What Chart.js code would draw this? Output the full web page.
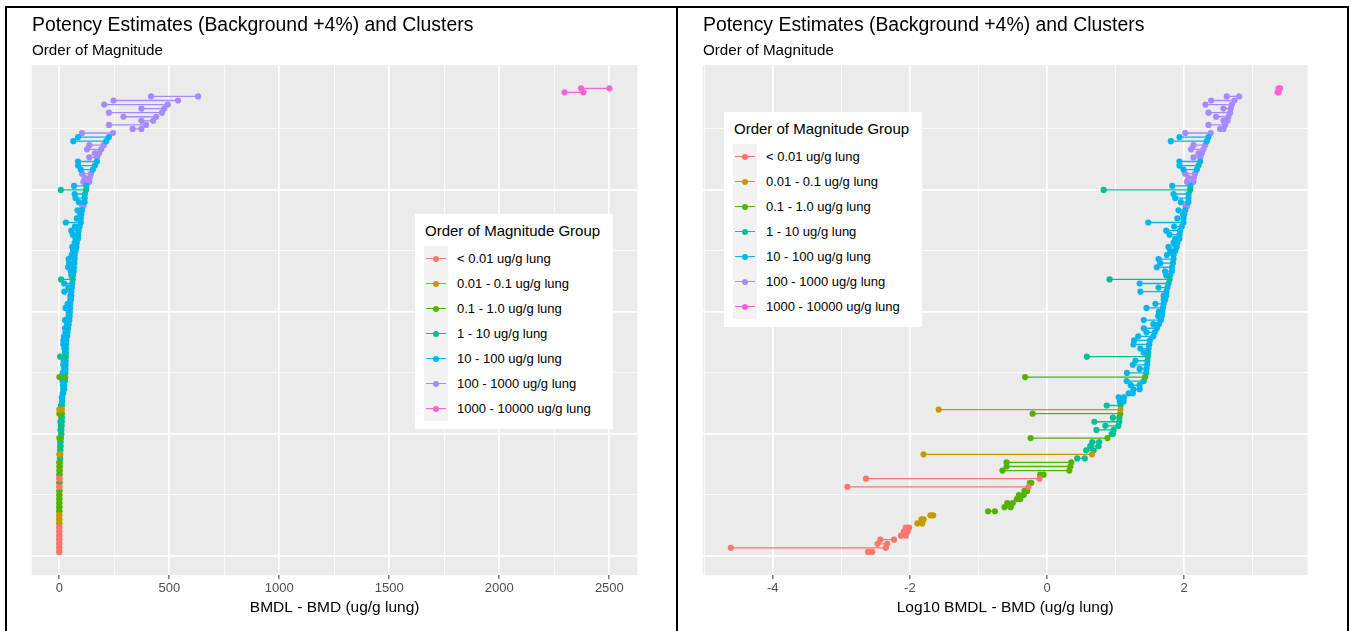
<!DOCTYPE html>
<html><head><meta charset="utf-8">
<script src="https://cdn.jsdelivr.net/npm/chart.js@4.4.1/dist/chart.umd.min.js"></script>
<style>
html,body{margin:0;padding:0;background:#fff;}
body{width:1351px;height:631px;overflow:hidden;position:relative;font-family:"Liberation Sans",Arial,sans-serif;color:#000;}
canvas{position:absolute;}
.ttl{position:absolute;font-size:19.4px;line-height:19.4px;white-space:nowrap;}
.sub{position:absolute;font-size:15.2px;line-height:15.2px;white-space:nowrap;}
.leg{position:absolute;background:#fff;width:198px;height:215px;}
.leg .lt{position:absolute;left:10px;top:9px;font-size:15px;line-height:15px;white-space:nowrap;}
.leg .row{position:absolute;left:9px;height:25px;width:185px;}
.leg .key{position:absolute;left:0;top:0;width:24px;height:25px;background:#F2F2F2;}
.leg .kl{position:absolute;left:2px;width:20px;top:12px;height:1.3px;}
.leg .kd{position:absolute;left:9px;top:9.5px;width:6px;height:6px;border-radius:50%;}
.leg .lab{position:absolute;left:33px;top:0;line-height:25px;font-size:13px;white-space:nowrap;}
.bl{position:absolute;background:#000;}
</style></head><body>
<div class="bl" style="left:5px;top:6px;width:1344px;height:2px;"></div>
<div class="bl" style="left:5px;top:6px;width:2px;height:625px;"></div>
<div class="bl" style="left:676px;top:6px;width:2px;height:625px;"></div>
<div class="bl" style="left:1347px;top:6px;width:2px;height:625px;"></div>
<canvas id="cLin" width="676" height="631" style="left:0;top:0;"></canvas>
<canvas id="cLog" width="669" height="631" style="left:678px;top:0;"></canvas>
<div class="ttl" style="left:32px;top:15.4px;">Potency Estimates (Background +4%) and Clusters</div>
<div class="sub" style="left:32px;top:42.2px;">Order of Magnitude</div>
<div class="ttl" style="left:703px;top:15.4px;">Potency Estimates (Background +4%) and Clusters</div>
<div class="sub" style="left:703px;top:42.2px;">Order of Magnitude</div>
<div class="leg" id="legLin" style="left:415px;top:214px;"></div>
<div class="leg" id="legLog" style="left:724px;top:112px;"></div>
<script>
// ---- data, rows sorted by BMD, values in log10(ug/g lung) ----
const bmdlLog10 = [
 -2.61,-4.61,-2.47,-2.43,-2.13,-2.09,-2.06,-1.89,-1.83,-1.70,
 -0.86,-0.62,-0.58,-0.44,-0.41,-0.33,-2.91,-0.25,-2.64,-0.10,
 -0.65,-0.59,-0.59,0.44,-1.80,0.57,0.63,0.66,-0.24,0.94,
 0.72,0.85,0.69,0.96,-0.21,-1.58,0.87,1.06,1.043,1.19,
 1.26,1.22,1.16,-0.32,1.165,1.35,1.25,1.29,0.58,1.41,
 1.36,1.26,1.27,1.33,1.45,1.41,1.55,1.41,1.62,1.63,
 1.45,1.58,1.70,1.70,1.36,1.625,1.35,0.912,1.737,1.72,
 1.60,1.65,1.625,1.747,1.795,1.77,1.844,1.868,1.786,1.737,
 1.853,1.475,1.90,1.98,1.917,2.02,1.95,1.868,1.844,0.825,
 1.825,2.038,2.062,2.014,1.989,1.931,1.931,2.135,2.208,2.101,
 2.135,1.805,1.931,2.014,2.523,2.353,2.572,2.465,2.353,2.572,
 2.31,2.392,2.62,3.361,3.375
];
const bmdLog10 = [
 -2.55,-2.35,-2.33,-2.23,-2.06,-2.03,-2.01,-1.82,-1.80,-1.66,
 -0.76,-0.53,-0.50,-0.39,-0.34,-0.29,-0.27,-0.23,-0.11,-0.05,
 0.325,0.34,0.354,0.55,0.655,0.68,0.75,0.76,0.88,0.96,
 0.97,1.04,1.053,1.055,1.067,1.07,1.072,1.116,1.12,1.25,
 1.35,1.35,1.41,1.43,1.446,1.45,1.46,1.465,1.47,1.475,
 1.48,1.49,1.50,1.55,1.57,1.60,1.63,1.66,1.675,1.68,
 1.69,1.70,1.722,1.737,1.74,1.756,1.771,1.786,1.795,1.82,
 1.82,1.834,1.844,1.845,1.868,1.89,1.90,1.93,1.932,1.94,
 1.965,1.989,1.99,2.00,2.014,2.04,2.06,2.062,2.065,2.086,
 2.09,2.135,2.14,2.159,2.183,2.208,2.232,2.235,2.256,2.28,
 2.305,2.329,2.353,2.387,2.572,2.596,2.63,2.644,2.669,2.678,
 2.693,2.732,2.80,3.377,3.398
];
const groupLabels = ["< 0.01 ug/g lung","0.01 - 0.1 ug/g lung","0.1 - 1.0 ug/g lung","1 - 10 ug/g lung","10 - 100 ug/g lung","100 - 1000 ug/g lung","1000 - 10000 ug/g lung"];
const groupColors = ["#F8766D","#C49A00","#53B400","#00C094","#00B6EB","#A58AFF","#FB61D7"];
const groupLowerLog10 = [-Infinity,-2,-1,0,1,2,3];
const linTickValues = [0,250,500,750,1000,1250,1500,1750,2000,2250,2500];
const linTickLabels = ["0","","500","","1000","","1500","","2000","","2500"];
const logTickValues = [-5,-4,-3,-2,-1,0,1,2,3];
const logTickLabels = ["","-4","","-2","","0","","2",""];
const rowGridValues = [0,15,30,45,60,75,90,105];
const rowGridMajor = [0,30,60,90];

function groupOf(v){let g=0;for(let k=0;k<groupLowerLog10.length;k++){if(v>=groupLowerLog10[k])g=k;}return g;}

function buildDatasets(tf){
  const pts=[],lines=[];
  groupColors.forEach((c,g)=>{
    pts.push({label:groupLabels[g],data:[],showLine:false,pointRadius:3.1,pointHoverRadius:3.1,
      backgroundColor:c,pointBackgroundColor:c,borderColor:c,pointBorderWidth:0,borderWidth:0,order:0});
    lines.push({label:groupLabels[g]+" seg",data:[],showLine:true,pointRadius:0,pointHoverRadius:0,
      borderColor:c,backgroundColor:c,borderWidth:1.3,spanGaps:false,order:1});
  });
  bmdLog10.forEach((hi,i)=>{
    const lo=bmdlLog10[i],g=groupOf(lo),r=i+1;
    lines[g].data.push({x:tf(lo),y:r},{x:tf(hi),y:r},{x:tf(hi),y:null});
    pts[g].data.push({x:tf(lo),y:r},{x:tf(hi),y:r});
  });
  return pts.concat(lines);
}

const bgPlugin={id:'panelBg',beforeDraw(chart){const a=chart.chartArea,ctx=chart.ctx;ctx.save();ctx.fillStyle='#EBEBEB';ctx.fillRect(a.left,a.top,a.right-a.left,a.bottom-a.top);ctx.restore();}};

function makeChart(id,tf,xmin,xmax,tickVals,tickLabs,majorVals,axisTitle,padLeft,padRight){
  const canvasH=631, areaTop=65.1, areaBottom=575.1;
  new Chart(document.getElementById(id),{
    type:'scatter',
    data:{datasets:buildDatasets(tf)},
    plugins:[bgPlugin],
    options:{
      responsive:false,animation:false,events:[],
      layout:{padding:{left:0,right:padRight,top:areaTop,bottom:0}},
      plugins:{legend:{display:false},tooltip:{enabled:false},title:{display:false}},
      scales:{
        x:{type:'linear',position:'bottom',min:xmin,max:xmax,
          afterBuildTicks:(s)=>{s.ticks=tickVals.map(v=>({value:v}));},
          afterFit:(s)=>{s.height=canvasH-areaBottom;},
          border:{display:false},
          grid:{color:'#FFFFFF',lineWidth:(c)=>(c.tick&&majorVals.includes(c.tick.value))?1.7:0.8,
            tickLength:4,tickWidth:1,
            tickColor:(c)=>(c.tick&&majorVals.includes(c.tick.value))?'#333333':'rgba(0,0,0,0)'},
          ticks:{autoSkip:false,maxRotation:0,padding:2,color:'#4D4D4D',
            font:{family:'"Liberation Sans", Arial, sans-serif',size:13},
            callback:(v,i)=>tickLabs[i]},
          title:{display:true,text:axisTitle,color:'#000',padding:{top:0,bottom:14.2},
            font:{family:'"Liberation Sans", Arial, sans-serif',size:15.5}}
        },
        y:{type:'linear',position:'left',min:-4.7,max:120.7,
          afterBuildTicks:(s)=>{s.ticks=rowGridValues.map(v=>({value:v}));},
          afterFit:(s)=>{s.width=padLeft;},
          border:{display:false},
          grid:{color:'#FFFFFF',drawTicks:false,lineWidth:(c)=>(c.tick&&rowGridMajor.includes(c.tick.value))?1.7:0.8},
          ticks:{display:false}
        }
      }
    }
  });
}

// left panel: linear ug/g lung ; right panel: log10 ug/g lung
makeChart('cLin',(v)=>Math.pow(10,v),-125,2628,linTickValues,linTickLabels,[0,500,1000,1500,2000,2500],
  'BMDL - BMD (ug/g lung)',31.8,676-637.5);
makeChart('cLog',(v)=>v,-5.02,3.80,logTickValues,logTickLabels,[-4,-2,0,2],
  'Log10 BMDL - BMD (ug/g lung)',702.7-678,669-(1307.7-678));

function buildLegend(id){
  const el=document.getElementById(id);
  const t=document.createElement('div');t.className='lt';t.textContent='Order of Magnitude Group';el.appendChild(t);
  groupLabels.forEach((lab,g)=>{
    const row=document.createElement('div');row.className='row';row.style.top=(32+g*25)+'px';
    row.innerHTML='<div class="key"><div class="kl" style="background:'+groupColors[g]+'"></div><div class="kd" style="background:'+groupColors[g]+'"></div></div><div class="lab"></div>';
    row.querySelector('.lab').textContent=lab;
    el.appendChild(row);
  });
}
buildLegend('legLin');buildLegend('legLog');
</script>
</body></html>
